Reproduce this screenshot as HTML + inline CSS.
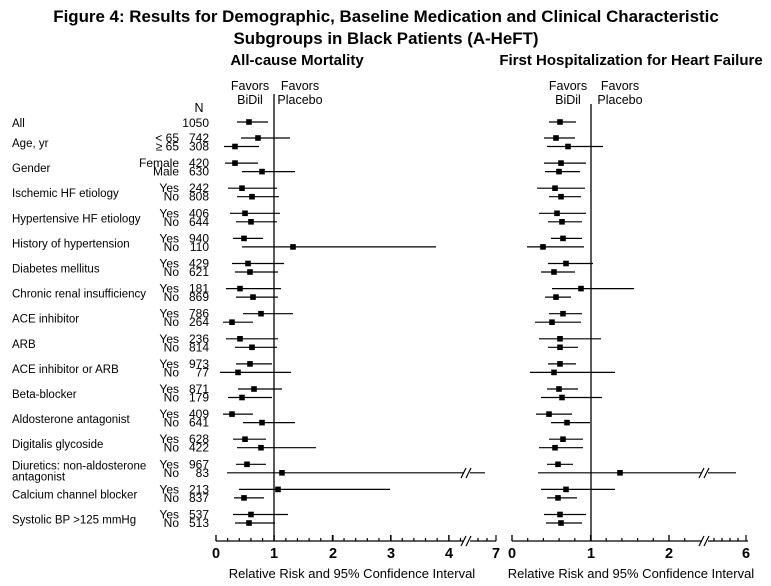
<!DOCTYPE html>
<html><head><meta charset="utf-8"><style>
html,body{margin:0;padding:0;background:#fff}
svg{display:block;font-family:"Liberation Sans",Arial,sans-serif}
</style></head><body>
<svg id="s" width="771" height="586" viewBox="0 0 771 586" xmlns="http://www.w3.org/2000/svg">
<text x="386" y="22" text-anchor="middle" font-weight="bold" font-size="16.9">Figure 4: Results for Demographic, Baseline Medication and Clinical Characteristic</text>
<text x="386" y="44" text-anchor="middle" font-weight="bold" font-size="16.9">Subgroups in Black Patients (A-HeFT)</text>
<text x="297" y="65" text-anchor="middle" font-weight="bold" font-size="15">All-cause Mortality</text>
<text x="631" y="65" text-anchor="middle" font-weight="bold" font-size="15">First Hospitalization for Heart Failure</text>
<g font-size="12.5" text-anchor="middle">
<text x="250" y="90">Favors</text><text x="250" y="104">BiDil</text>
<text x="300" y="90">Favors</text><text x="300" y="104">Placebo</text>
<text x="568" y="90">Favors</text><text x="568" y="104">BiDil</text>
<text x="620" y="90">Favors</text><text x="620" y="104">Placebo</text>
<text x="199" y="112">N</text>
</g>
<g id="g" stroke="#000" fill="#000"></g>
</svg>
<script>
var g=document.getElementById('g');var S='http://www.w3.org/2000/svg';
function el(n,a,t){var e=document.createElementNS(S,n);for(var k in a)e.setAttribute(k,a[k]);if(t!=null)e.textContent=t;g.appendChild(e);return e;}
function line(x1,y1,x2,y2,w){el('line',{x1:x1,y1:y1,x2:x2,y2:y2,'stroke-width':w||1.3});}
function txt(x,y,s,anc,sz,b){var e=el('text',{x:x,y:y,'font-size':sz||11.5,'text-anchor':anc||'start',stroke:'none'},s);if(b)e.setAttribute('font-weight','bold');}
var groups=[["Age, yr","< 65","≥ 65",742,308],["Gender","Female","Male",420,630],["Ischemic HF etiology","Yes","No",242,808],["Hypertensive HF etiology","Yes","No",406,644],["History of hypertension","Yes","No",940,110],["Diabetes mellitus","Yes","No",429,621],["Chronic renal insufficiency","Yes","No",181,869],["ACE inhibitor","Yes","No",786,264],["ARB","Yes","No",236,814],["ACE inhibitor or ARB","Yes","No",973,77],["Beta-blocker","Yes","No",871,179],["Aldosterone antagonist","Yes","No",409,641],["Digitalis glycoside","Yes","No",628,422],["Diuretics: non-aldosterone","Yes","No",967,83],["Calcium channel blocker","Yes","No",213,837],["Systolic BP >125 mmHg","Yes","No",537,513]];
var L=[[237,249,268],[241,258,290],[224,235,259],[225,235,258],[242,262,295],[228,242,277],[237,252,279],[230,245,280],[236,251,277],[233,244,263],[242,293,436],[232,248,284],[235,250,278],[226,240,281],[236,253,278],[243,261,293],[223,232,253],[226,240,278],[235,252,277],[236,250,272],[220,238,291],[238,254,282],[228,242,272],[223,232,253],[243,262,295],[233,245,266],[237,261,316],[236,247,266],[227,282,485],[239,278,390],[234,244,264],[233,251,288],[235,249,275]];
var R=[[549,560,576],[544,556,575],[547,568,603],[544,561,586],[545,559,580],[537,555,585],[549,561,581],[539,557,586],[548,562,582],[551,563,582],[527,543,584],[548,566,593],[541,554,575],[552,581,634],[545,556,571],[549,563,582],[535,552,581],[539,560,601],[548,560,578],[548,560,576],[530,554,615],[547,559,578],[541,562,602],[536,549,572],[551,567,590],[549,563,583],[539,555,583],[547,558,573],[538,620,736],[541,566,615],[547,558,577],[544,560,586],[546,561,582]];
var ys=[122];
for(var k=0;k<16;k++){ys.push(138+25.1*k);ys.push(146.5+25.1*k);}
txt(12,127,"All");txt(209,127,"1050","end",12);
for(var k=0;k<16;k++){var gr=groups[k],y=138+25.1*k;
 if(k==13){txt(12,y+5,gr[0]);txt(12,y+16,"antagonist");}else txt(12,y+9,gr[0]);
 txt(179,y+4,gr[1],"end",12);txt(179,y+12.5,gr[2],"end",12);
 txt(209,y+4,String(gr[3]),"end",12);txt(209,y+12.5,String(gr[4]),"end",12);}
line(274,94,274,541);line(591,104,591,541);
function rows(D){for(var i=0;i<D.length;i++){var d=D[i],y=ys[i];line(d[0],y,d[2],y,1.2);el('rect',{x:d[1]-2.8,y:y-2.8,width:5.6,height:5.6,stroke:'none'});}}
rows(L);rows(R);
function brk(x,y){el('rect',{x:x-3,y:y-5,width:6,height:10,fill:'#fff',stroke:'none'});line(x-6,y+5,x-1,y-5,1.2);line(x-1,y+5,x+4,y-5,1.2);}
line(216,541,496,541);line(512,541,748,541);
function ticks(x0,sc,maxv,brx,labs){for(var v=0;v<=maxv+1e-6;v+=0.2){var x=x0+v*sc;if(x>brx-4)break;var big=Math.abs(v-Math.round(v))<1e-6;line(x,541,x,big?535:538,1.2);}
 labs.forEach(function(l){line(l[1],541,l[1],535,1.2);txt(l[1],558,l[0],"middle",14.5,true);});}
ticks(216,58.2,4.2,466,[["0",216],["1",274],["2",333],["3",391],["4",449],["7",496]]);
line(478,541,478,538);line(487,541,487,538);
ticks(512,78.5,2.4,704,[["0",512],["1",591],["2",669],["6",746]]);
[714,722,730,738].forEach(function(x){line(x,541,x,538);});
brk(467,473);brk(705,473);brk(467,541);brk(705,541);
txt(352,578,"Relative Risk and 95% Confidence Interval","middle",13);
txt(631,578,"Relative Risk and 95% Confidence Interval","middle",13);
</script>
</body></html>
